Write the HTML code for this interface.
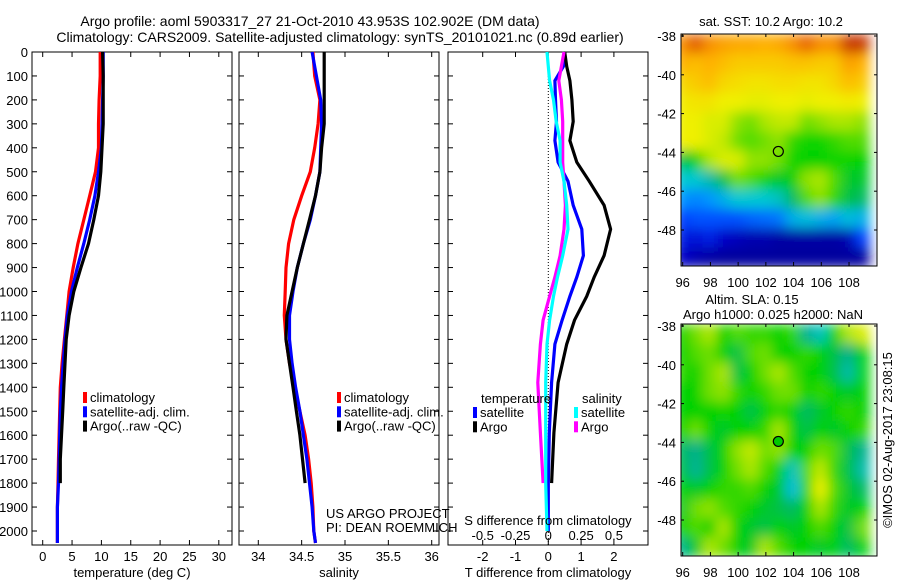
<!DOCTYPE html>
<html><head><meta charset="utf-8">
<style>
html,body{margin:0;padding:0;background:#fff;}
svg{display:block;font-family:"Liberation Sans",sans-serif;}
</style></head>
<body>
<svg id="c" width="900" height="580" viewBox="0 0 900 580" xmlns="http://www.w3.org/2000/svg">
<defs>
<clipPath id="clipA"><rect x="681" y="34" width="196" height="232"/></clipPath>
<clipPath id="clipB"><rect x="681" y="324" width="196" height="232"/></clipPath>
<filter id="blur" x="-5%" y="-5%" width="110%" height="110%"><feGaussianBlur stdDeviation="6" edgeMode="duplicate"/></filter>
</defs>
<text x="310" y="26" font-size="14" text-anchor="middle">Argo profile: aoml 5903317_27 21-Oct-2010 43.953S 102.902E (DM data)</text>
<text x="340" y="42" font-size="14" text-anchor="middle">Climatology: CARS2009. Satellite-adjusted climatology: synTS_20101021.nc (0.89d earlier)</text>
<g id="plots"></g>
</svg>
<script>
// ---- profile data ----
const tDepth = [0,100,200,300,400,500,600,700,800,900,1000,1100,1200,1300,1400,1500,1600,1700,1800,1900,2000,2050];
const argoDepth = [0,100,200,300,400,500,600,700,800,900,1000,1100,1200,1300,1400,1500,1600,1700,1800];
const tClim = [9.8,9.8,9.6,9.5,9.5,9.0,8.0,7.0,6.0,5.2,4.5,4.1,3.7,3.3,3.0,2.9,2.8,2.7,2.6,2.5,2.5,2.5];
const tSat = [10.3,10.3,10.2,10.1,10.0,9.5,8.9,8.0,7.0,5.9,4.9,4.2,3.8,3.5,3.2,3.0,2.9,2.8,2.7,2.5,2.5,2.5];
const tArgo = [10.2,10.3,10.3,10.3,10.1,9.9,9.5,8.7,7.8,6.5,5.3,4.5,4.0,3.8,3.6,3.4,3.2,3.0,3.0];
const sClim = [34.63,34.65,34.71,34.69,34.65,34.60,34.50,34.41,34.35,34.32,34.31,34.30,34.32,34.36,34.42,34.48,34.54,34.58,34.61,34.63,34.64,34.66];
const sSat = [34.62,34.67,34.72,34.73,34.72,34.71,34.66,34.60,34.52,34.45,34.40,34.36,34.36,34.39,34.43,34.48,34.52,34.56,34.59,34.62,34.64,34.66];
const sArgo = [34.76,34.76,34.76,34.76,34.73,34.71,34.66,34.59,34.52,34.45,34.39,34.33,34.32,34.36,34.40,34.44,34.48,34.51,34.54];
const dDepth = [0,60,120,200,290,370,460,540,640,740,850,940,1020,1120,1220,1380,1590,1800,2000];
const dTsat = [0.49,0.46,0.2,0.22,0.25,0.2,0.3,0.6,0.76,1.02,1.07,0.87,0.66,0.42,0.2,0.1,0.03,0.0,0.0];
const dTargo = [0.5,0.56,0.66,0.72,0.76,0.66,0.87,1.25,1.7,1.9,1.7,1.4,1.17,0.8,0.56,0.3,0.17,0.1];
const dSsat = [-0.01,0.0,0.01,0.04,0.06,0.09,0.09,0.12,0.14,0.15,0.11,0.07,0.04,0.01,-0.01,-0.02,-0.02,-0.02,-0.01];
const dSargo = [0.12,0.1,0.08,0.1,0.11,0.11,0.11,0.12,0.13,0.12,0.09,0.05,0.01,-0.04,-0.06,-0.08,-0.06,-0.04];
const depthTicks = [0,100,200,300,400,500,600,700,800,900,1000,1100,1200,1300,1400,1500,1600,1700,1800,1900,2000];
const tempTicks = [0,5,10,15,20,25,30];
const salTicks = [34,34.5,35,35.5,36];
const salTickLabels = ["34","34.5","35","35.5","36"];
const dTTicks = [-2,-1,0,1,2];
const dSTicks = [-0.5,-0.25,0,0.25,0.5];
const dSTickLabels = ["-0.5","-0.25","0","0.25","0.5"];
// ---- map data ----
const lonTicks = [96,98,100,102,104,106,108];
const latTicks = [-38,-40,-42,-44,-46,-48];
const sstGrid = [
[0.86,0.92,0.86,0.84,0.83,0.83,0.82,0.83,0.86,0.91,0.86,0.86,0.95,0.95],
[0.82,0.80,0.82,0.80,0.78,0.78,0.78,0.78,0.79,0.79,0.78,0.78,0.84,0.82],
[0.76,0.78,0.80,0.76,0.75,0.74,0.74,0.75,0.75,0.74,0.74,0.76,0.80,0.78],
[0.73,0.74,0.74,0.72,0.72,0.71,0.71,0.72,0.72,0.71,0.72,0.72,0.73,0.72],
[0.72,0.72,0.70,0.70,0.64,0.62,0.66,0.68,0.68,0.62,0.64,0.66,0.66,0.64],
[0.72,0.72,0.70,0.68,0.62,0.60,0.62,0.64,0.58,0.56,0.56,0.58,0.60,0.60],
[0.50,0.55,0.66,0.70,0.70,0.64,0.64,0.62,0.56,0.55,0.55,0.56,0.56,0.55],
[0.38,0.38,0.42,0.50,0.62,0.60,0.56,0.52,0.54,0.64,0.66,0.60,0.52,0.52],
[0.30,0.28,0.30,0.34,0.38,0.38,0.38,0.40,0.48,0.60,0.64,0.58,0.50,0.48],
[0.20,0.22,0.22,0.22,0.22,0.24,0.25,0.26,0.34,0.36,0.34,0.32,0.36,0.34],
[0.16,0.14,0.16,0.12,0.10,0.08,0.08,0.06,0.06,0.06,0.06,0.06,0.08,0.20],
[0.12,0.08,0.06,0.05,0.05,0.05,0.05,0.05,0.05,0.05,0.05,0.05,0.05,0.05]];
const slaGrid = [
[0.55,0.62,0.66,0.55,0.60,0.58,0.58,0.55,0.58,0.45,0.40,0.55,0.66,0.70],
[0.55,0.60,0.62,0.55,0.50,0.60,0.62,0.55,0.55,0.58,0.55,0.50,0.45,0.55],
[0.58,0.55,0.62,0.66,0.50,0.55,0.62,0.66,0.60,0.55,0.55,0.50,0.42,0.55],
[0.55,0.55,0.62,0.64,0.58,0.55,0.58,0.62,0.62,0.55,0.58,0.55,0.52,0.55],
[0.55,0.55,0.55,0.56,0.55,0.50,0.55,0.58,0.55,0.48,0.52,0.55,0.58,0.55],
[0.55,0.62,0.55,0.52,0.55,0.55,0.58,0.66,0.55,0.50,0.55,0.52,0.55,0.58],
[0.48,0.45,0.50,0.55,0.64,0.68,0.62,0.64,0.55,0.55,0.62,0.60,0.50,0.45],
[0.50,0.44,0.50,0.55,0.62,0.66,0.60,0.55,0.40,0.60,0.68,0.58,0.50,0.42],
[0.55,0.52,0.55,0.58,0.58,0.60,0.55,0.52,0.36,0.58,0.72,0.60,0.52,0.48],
[0.52,0.62,0.64,0.60,0.58,0.55,0.52,0.50,0.48,0.55,0.66,0.58,0.52,0.55],
[0.55,0.60,0.55,0.66,0.55,0.52,0.50,0.55,0.52,0.55,0.60,0.55,0.50,0.62],
[0.45,0.52,0.66,0.62,0.55,0.52,0.66,0.60,0.55,0.55,0.52,0.55,0.48,0.55]];
const floatLon = [102.9];
const floatLat = [-43.95];

const NS = "http://www.w3.org/2000/svg";
const root = document.getElementById('plots');
function mk(tag, attrs, parent, txt){
  const e = document.createElementNS(NS, tag);
  for (const k in attrs) e.setAttribute(k, attrs[k]);
  if (txt !== undefined) e.textContent = txt;
  (parent || root).appendChild(e);
  return e;
}
const TOP = 52, BOT = 545, PX100 = 23.95;
const yD = d => TOP + d * PX100 / 100;

function panel(name, x0, x1, fx, xticks, xlabels, xtitle, showY){
  const g = mk('g', {});
  
  
  const fr = mk('rect', {x:x0, y:TOP, width:x1-x0, height:BOT-TOP, fill:'none', stroke:'#000', 'stroke-width':1}, g);
  
  
  depthTicks.forEach(d => {
    const y = yD(d);
    mk('line', {x1:x0, y1:y, x2:x0+5, y2:y, stroke:'#000'}, g);
    mk('line', {x1:x1, y1:y, x2:x1-5, y2:y, stroke:'#000'}, g);
    if (showY) {
      const t = mk('text', {x:28, y:y+5, 'font-size':13, 'text-anchor':'end'}, g, String(d));
      
      
    }
  });
  if (xticks) xticks.forEach((v, i) => {
    const x = fx(v);
    mk('line', {x1:x, y1:TOP, x2:x, y2:TOP+5, stroke:'#000'}, g);
    mk('line', {x1:x, y1:BOT, x2:x, y2:BOT-5, stroke:'#000'}, g);
    const t = mk('text', {x:x, y:561, 'font-size':13, 'text-anchor':'middle'}, g, xlabels[i]);
    
    
  });
  if (xtitle) {
    const t = mk('text', {x:(x0+x1)/2, y:577, 'font-size':13, 'text-anchor':'middle'}, g, xtitle);
    
    
  }
  return g;
}
function line(g, name, xs, ds, fx, color){
  const pts = xs.map((v, i) => fx(v).toFixed(1) + ',' + yD(ds[i]).toFixed(1)).join(' ');
  const p = mk('polyline', {points:pts, fill:'none', stroke:color, 'stroke-width':3.2, 'stroke-linejoin':'miter'}, g);
  
  
}
function legend(g, x, y, items){
  items.forEach((it, i) => {
    const yy = y + i * 14.3;
    mk('rect', {x:x, y:yy-6, width:4, height:11, fill:it[1]}, g);
    const t = mk('text', {x:x+7, y:yy+4, 'font-size':13}, g, it[0]);
    
    
  });
}

// Panel 1: temperature
const fT = v => 42.7 + 5.87 * v;
const g1 = panel('temperature-panel', 32, 232, fT, tempTicks, tempTicks.map(String), 'temperature (deg C)', true);
line(g1, 'temp-climatology-line', tClim, tDepth, fT, '#f00');
line(g1, 'temp-satellite-line', tSat, tDepth, fT, '#00f');
line(g1, 'temp-argo-line', tArgo, argoDepth, fT, '#000');
legend(g1, 83, 398, [['climatology','#f00'],['satellite-adj. clim.','#00f'],['Argo(..raw -QC)','#000']]);

// Panel 2: salinity
const fS = v => 258.3 + 86.7 * (v - 34);
const g2 = panel('salinity-panel', 239, 439, fS, salTicks, salTickLabels, 'salinity', false);
line(g2, 'sal-climatology-line', sClim, tDepth, fS, '#f00');
line(g2, 'sal-satellite-line', sSat, tDepth, fS, '#00f');
line(g2, 'sal-argo-line', sArgo, argoDepth, fS, '#000');
legend(g2, 337, 398, [['climatology','#f00'],['satellite-adj. clim.','#00f'],['Argo(..raw -QC)','#000']]);
const u1 = mk('text', {x:326, y:518, 'font-size':13}, g2, 'US ARGO PROJECT');


const u2 = mk('text', {x:326, y:532, 'font-size':13}, g2, 'PI: DEAN ROEMMICH');



// Panel 3: differences
const fDT = v => 548.3 + 32.8 * v;
const fDS = v => 548.3 + 131.2 * v;
const g3 = panel('difference-panel', 448, 648, fDT, dTTicks, dTTicks.map(String), 'T difference from climatology', false);
mk('line', {x1:fDT(0), y1:TOP, x2:fDT(0), y2:BOT, stroke:'#000', 'stroke-dasharray':'1,2'}, g3);
line(g3, 'dT-satellite-line', dTsat, dDepth, fDT, '#00f');
line(g3, 'dT-argo-line', dTargo, dDepth, fDT, '#000');
line(g3, 'dS-argo-line', dSargo, dDepth, fDS, '#f0f');
line(g3, 'dS-satellite-line', dSsat, dDepth, fDS, '#0ff');
dSTicks.forEach((v, i) => {
  const t = mk('text', {x:fDS(v), y:540, 'font-size':13, 'text-anchor':'middle'}, g3, dSTickLabels[i]);
  
  
});
const st = mk('text', {x:548, y:525, 'font-size':13, 'text-anchor':'middle'}, g3, 'S difference from climatology');


const lt1 = mk('text', {x:481, y:403, 'font-size':13}, g3, 'temperature');


const lt2 = mk('text', {x:582, y:403, 'font-size':13}, g3, 'salinity');


legend(g3, 473, 413, [['satellite','#00f'],['Argo','#000']]);
legend(g3, 574, 413, [['satellite','#0ff'],['Argo','#f0f']]);

// ---- maps ----
const stops = [[0,[0,0,128]],[0.12,[0,0,200]],[0.2,[0,64,255]],[0.3,[0,150,255]],[0.38,[0,200,210]],[0.45,[0,176,140]],[0.55,[0,210,0]],[0.65,[160,228,0]],[0.72,[240,240,0]],[0.82,[255,176,0]],[0.9,[240,110,0]],[1,[160,0,0]]];
function cmap(v){
  for (let i = 1; i < stops.length; i++) {
    if (v <= stops[i][0]) {
      const a = stops[i-1], b = stops[i], f = (v - a[0]) / (b[0] - a[0]);
      const c = a[1].map((x, k) => Math.round(x + (b[1][k] - x) * f));
      return 'rgb(' + c.join(',') + ')';
    }
  }
  return 'rgb(160,0,0)';
}
const MX0 = 681, MX1 = 877;
const fLon = v => 682.7 + 13.86 * (v - 96);
function map(name, y0, grid, clip, markerFill, titles){
  const fLat = v => y0 + 2 + 19.4 * (-38 - v);
  const g = mk('g', {});
  
  
  const hg = mk('g', {'clip-path':'url(#' + clip + ')'}, g);
  const inner = mk('g', {filter:'url(#blur)'}, hg);
  grid.forEach((row, r) => row.forEach((v, c) => {
    const cell = mk('rect', {x:fLon(96 + c) - 8, y:fLat(-37.9 - r), width:15, height:20.4, fill:cmap(v)}, inner);
    
    
  }));
  const fr = mk('rect', {x:MX0, y:y0, width:MX1-MX0, height:232, fill:'none', stroke:'#000'}, g);
  
  
  lonTicks.forEach(v => {
    const x = fLon(v);
    mk('line', {x1:x, y1:y0, x2:x, y2:y0+3, stroke:'#000'}, g);
    mk('line', {x1:x, y1:y0+232, x2:x, y2:y0+228, stroke:'#000'}, g);
    const t = mk('text', {x:x, y:y0+253, 'font-size':13, 'text-anchor':'middle'}, g, String(v));
    
    
  });
  latTicks.forEach(v => {
    const y = fLat(v);
    mk('line', {x1:MX0, y1:y, x2:MX0+3, y2:y, stroke:'#000'}, g);
    mk('line', {x1:MX1, y1:y, x2:MX1-3, y2:y, stroke:'#000'}, g);
    const t = mk('text', {x:676, y:y+5, 'font-size':13, 'text-anchor':'end'}, g, String(v));
    
    
  });
  const m = mk('circle', {cx:fLon(floatLon[0]), cy:fLat(floatLat[0]), r:5, fill:markerFill, stroke:'#000', 'stroke-width':1.2}, g);
  
  
  titles.forEach(tt => {
    const t = mk('text', {x:tt[0], y:tt[1], 'font-size':13, 'text-anchor':'middle'}, g, tt[2]);
    
    
  });
}
map('sst-map', 34, sstGrid, 'clipA', 'none', [[771, 26, 'sat. SST: 10.2 Argo: 10.2']]);
map('sla-map', 324, slaGrid, 'clipB', '#00c800', [[752, 304, 'Altim. SLA: 0.15'], [773, 319, 'Argo h1000: 0.025 h2000: NaN']]);
const cp = mk('text', {x:0, y:0, 'font-size':13, 'text-anchor':'middle', transform:'translate(892,440) rotate(-90)'}, root, '©IMOS 02-Aug-2017 23:08:15');


</script>
</body></html>
